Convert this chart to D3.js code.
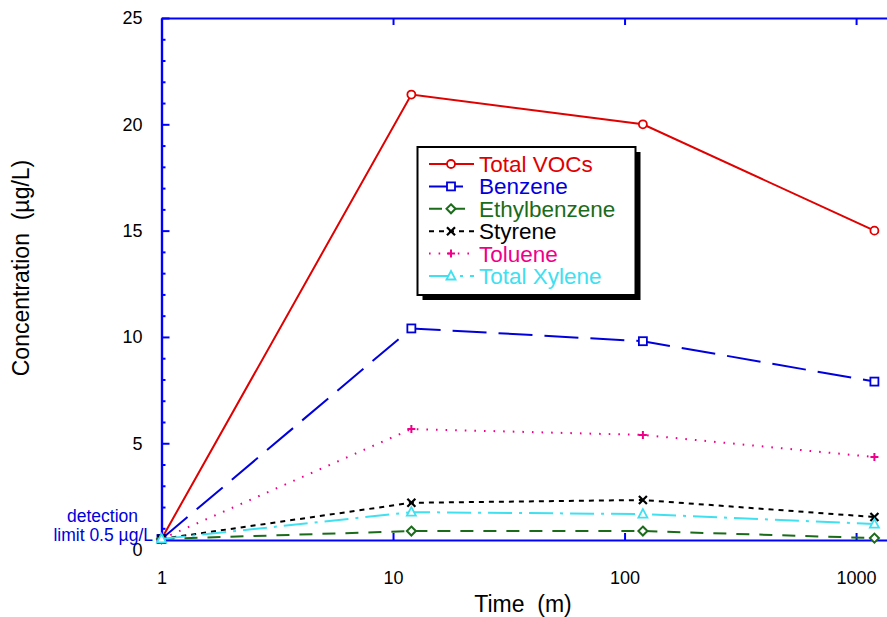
<!DOCTYPE html>
<html><head><meta charset="utf-8">
<script src="https://cdn.jsdelivr.net/npm/d3@7"></script>
<style>
html,body{margin:0;padding:0;background:#fff;}
svg{display:block;font-family:"Liberation Sans",Arial,sans-serif;}
</style></head>
<body>
<svg id="chart" width="887" height="617"></svg>
<script>
// ---- data ----
const times = [1, 12, 120, 1200];
const seriesNames = ["Total VOCs", "Benzene", "Ethylbenzene", "Styrene", "Toluene", "Total Xylene"];
const totalVOCs    = [0.5, 21.4, 20.0, 15.0];
const benzene      = [0.5, 10.4, 9.8, 7.9];
const ethylbenzene = [0.5, 0.87, 0.87, 0.54];
const styrene      = [0.5, 2.2, 2.33, 1.53];
const toluene      = [0.5, 5.67, 5.39, 4.35];
const totalXylene  = [0.5, 1.76, 1.67, 1.2];
const xTickValues = [1, 10, 100, 1000];
const yMajorTicks = [0, 5, 10, 15, 20, 25];
const yMinorTicks = [1,2,3,4,6,7,8,9,11,12,13,14,16,17,18,19,21,22,23,24];

const styles = {
  "Total VOCs":   {color:"#e00000", dash:null,          marker:"circle"},
  "Benzene":      {color:"#0000dd", dash:"34,12",       marker:"square"},
  "Ethylbenzene": {color:"#1a6b1a", dash:"13,10",       marker:"diamond"},
  "Styrene":      {color:"#000000", dash:"5,5",         marker:"x"},
  "Toluene":      {color:"#f0008a", dash:"1.6,8",       marker:"plus"},
  "Total Xylene": {color:"#40e0f0", dash:"24,7,3,7",    marker:"triangle"}
};
const values = [totalVOCs, benzene, ethylbenzene, styrene, toluene, totalXylene];
const series = seriesNames.map((n,i)=>({name:n, pts: times.map((t,j)=>({t, v: values[i][j]}))}));

const svg = d3.select("#chart");
const axisBlue = "#0000ff";

const x = d3.scaleLog().domain([1, 1360]).range([161.5, 887]);
const y = d3.scaleLinear().domain([0.45, 25]).range([540, 18]);

// ---- axes ----
const gx = svg.append("g").attr("transform", `translate(0,${y(0.45)})`)
  .call(d3.axisBottom(x).tickValues(xTickValues).tickFormat(d3.format("d"))
    .tickSizeInner(-7).tickSizeOuter(0).tickPadding(31));
const gxTop = svg.append("g").attr("transform", `translate(0,${y(25)})`)
  .call(d3.axisTop(x).tickValues([10,100,1000]).tickFormat("")
    .tickSizeInner(-7).tickSizeOuter(0));
const gyMinor = svg.append("g").attr("transform", `translate(${x(1)},0)`)
  .call(d3.axisLeft(y).tickValues(yMinorTicks).tickFormat("").tickSizeInner(-4).tickSizeOuter(0));
const gy = svg.append("g").attr("transform", `translate(${x(1)},0)`)
  .call(d3.axisLeft(y).tickValues(yMajorTicks).tickFormat(d3.format("d"))
    .tickSizeInner(-8).tickSizeOuter(0).tickPadding(19));
gy.selectAll(".tick").filter(d=>d===0).select("line").remove();

[gx, gxTop, gyMinor, gy].forEach(g=>{
  g.selectAll("path.domain").attr("stroke", axisBlue).attr("stroke-width", 2.2);
  g.selectAll(".tick line").attr("stroke", axisBlue).attr("stroke-width", 2);
  g.selectAll(".tick text").attr("fill", "#000").attr("font-size", 18)
    .attr("font-family", "'Liberation Sans',Arial,sans-serif");
});
gx.selectAll(".tick").filter(d=>d===1).select("line").remove();

// axis titles
svg.append("text").attr("x", 523).attr("y", 612).attr("text-anchor","middle")
  .attr("font-size", 23).attr("fill","#000").attr("xml:space","preserve").text("Time  (m)");
svg.append("text").attr("transform","translate(29,268) rotate(-90)").attr("text-anchor","middle")
  .attr("font-size", 23).attr("fill","#000").attr("xml:space","preserve").text("Concentration  (µg/L)");

// detection limit
svg.append("text").attr("x", 138).attr("y", 522).attr("text-anchor","end")
  .attr("font-size", 17.5).attr("fill", "#0000dd").text("detection");
svg.append("text").attr("x", 153).attr("y", 541).attr("text-anchor","end")
  .attr("font-size", 17.5).attr("fill", "#0000dd").text("limit 0.5 µg/L");

// ---- markers ----
function drawMarker(g, type, cx, cy, color){
  const s = 4;
  if(type==="circle"){
    g.append("circle").attr("cx",cx).attr("cy",cy).attr("r",4).attr("fill","#fff").attr("stroke",color).attr("stroke-width",1.8);
  } else if(type==="square"){
    g.append("rect").attr("x",cx-4).attr("y",cy-4).attr("width",8).attr("height",8).attr("fill","#fff").attr("stroke",color).attr("stroke-width",1.8);
  } else if(type==="diamond"){
    g.append("path").attr("d",`M${cx},${cy-4.5}L${cx+4.5},${cy}L${cx},${cy+4.5}L${cx-4.5},${cy}Z`).attr("fill","#fff").attr("stroke",color).attr("stroke-width",2);
  } else if(type==="x"){
    g.append("path").attr("d",`M${cx-s},${cy-s}L${cx+s},${cy+s}M${cx-s},${cy+s}L${cx+s},${cy-s}`).attr("stroke",color).attr("stroke-width",2.2);
  } else if(type==="plus"){
    g.append("path").attr("d",`M${cx-s},${cy}L${cx+s},${cy}M${cx},${cy-s}L${cx},${cy+s}`).attr("stroke",color).attr("stroke-width",2);
  } else if(type==="triangle"){
    g.append("path").attr("d",`M${cx},${cy-5}L${cx+4.5},${cy+3.5}L${cx-4.5},${cy+3.5}Z`).attr("fill","#fff").attr("stroke",color).attr("stroke-width",1.8);
  }
}

// ---- lines ----
const line = d3.line().x(d=>x(d.t)).y(d=>y(d.v));
const plot = svg.append("g");
series.forEach(s=>{
  const st = styles[s.name];
  const g = plot.append("g");
  g.append("path").datum(s.pts).attr("d", line).attr("fill","none")
    .attr("stroke", st.color).attr("stroke-width", 2)
    .attr("stroke-dasharray", st.dash);
  s.pts.forEach(p=>drawMarker(g, st.marker, x(p.t), y(p.v), st.color));
});

// ---- legend ----
const lg = svg.append("g");
const lx = 417.5, ly = 147, lw = 218, lh = 148;
lg.append("rect").attr("x", lx+5).attr("y", ly+5).attr("width", lw).attr("height", lh).attr("fill","#000");
lg.append("rect").attr("x", lx).attr("y", ly).attr("width", lw).attr("height", lh).attr("fill","#fff").attr("stroke","#000").attr("stroke-width",2);
seriesNames.forEach((n,i)=>{
  const st = styles[n];
  const cy = 164 + i*22.4;
  lg.append("line").attr("x1", 429).attr("x2", 474).attr("y1", cy).attr("y2", cy)
    .attr("stroke", st.color).attr("stroke-width", 2).attr("stroke-dasharray", st.dash);
  drawMarker(lg, st.marker, 451, cy, st.color);
  lg.append("text").attr("x", 479).attr("y", cy+8).attr("font-size", 22.5).attr("fill", st.color).text(n);
});
</script>
</body></html>
